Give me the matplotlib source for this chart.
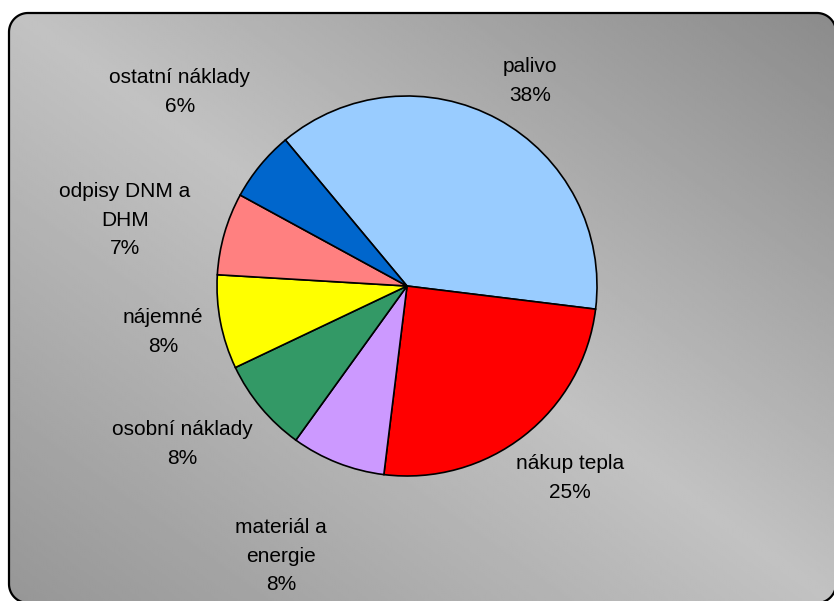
import numpy as np
import matplotlib.pyplot as plt
from matplotlib.patches import Polygon
from matplotlib.colors import LinearSegmentedColormap

# data
labels = ["palivo", "nákup tepla", "materiál a\nenergie", "osobní náklady",
          "nájemné", "odpisy DNM a\nDHM", "ostatní náklady"]
values = [38, 25, 8, 8, 8, 7, 6]
colors = ["#99CCFF", "#FF0000", "#CC99FF", "#339966",
          "#FFFF00", "#FF8080", "#0066CC"]

W, H = 834, 601


def rounded_rect(x0, y0, x1, y1, rad, n=20):
    """corner points of a rounded rectangle, y up"""
    pts = []
    corners = [(x1 - rad, y1 - rad, 0), (x0 + rad, y1 - rad, 90),
               (x0 + rad, y0 + rad, 180), (x1 - rad, y0 + rad, 270)]
    for ccx, ccy, a0 in corners:
        t = np.radians(np.linspace(a0, a0 + 90, n))
        pts += list(zip(ccx + rad * np.cos(t), ccy + rad * np.sin(t)))
    return np.array(pts)


fig = plt.figure(figsize=(W / 100, H / 100), dpi=100, facecolor="white")
ax = fig.add_axes([0, 0, 1, 1])

#%% pie
cx, cy, r = 407, H - 286, 190
wedges, _ = ax.pie(values, colors=colors, startangle=129.8, counterclock=False,
                   center=(cx, cy), radius=r, frame=True,
                   wedgeprops=dict(edgecolor="black", linewidth=1.2, zorder=3))

#%% gradient background inside rounded frame
xx, yy = np.meshgrid(np.linspace(0, 1, 400), np.linspace(0, 1, 300))
u = xx - (1 - yy)   # top-right -> 1, bottom-left -> -1 (rows from bottom)
grad = np.where(u >= 0, 0xC2 + (0x8A - 0xC2) * u, 0xC2 + (0x96 - 0xC2) * (-u)) / 255.0
cmap = LinearSegmentedColormap.from_list("g", ["black", "white"])
img = ax.imshow(grad, cmap=cmap, vmin=0, vmax=1, origin="lower",
                extent=(0, W, 0, H), zorder=0, interpolation="bilinear")

frame = Polygon(rounded_rect(9, H - 603, 836, H - 13, 19), closed=True,
                facecolor="none", edgecolor="black", linewidth=1.6, zorder=5)
ax.add_patch(frame)
img.set_clip_path(frame)

ax.set_xlim(0, W)
ax.set_ylim(0, H)
ax.set_aspect("equal")
ax.axis("off")

# label positions (pixel coords, top-left origin)
label_pos = [(530, 81), (570, 478), (281, 556), (182, 444), (163, 332), (125, 220), (180, 92)]
for lab, v, (px, py) in zip(labels, values, label_pos):
    ax.text(px, H - py, f"{lab}\n{v}%", ha="center", va="center",
            fontsize=15, family="Liberation Sans", linespacing=1.65, zorder=6)

fig.savefig("out.png", dpi=100, facecolor="white")
